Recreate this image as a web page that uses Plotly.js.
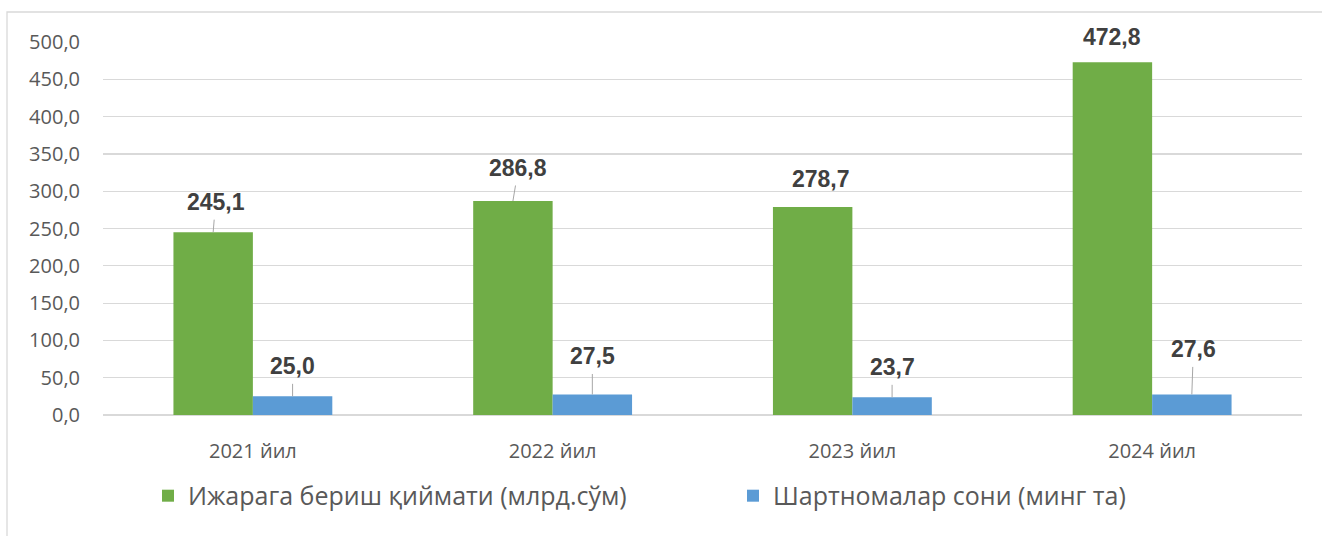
<!DOCTYPE html>
<html>
<head>
<meta charset="utf-8">
<script src="https://cdn.plot.ly/plotly-3.0.1.min.js"></script>
<style>html,body{margin:0;padding:0;background:#fff;}#chart{width:1322px;height:536px;}</style>
</head>
<body>
<div id="chart"></div>
<script>
const categories = ['2021 йил', '2022 йил', '2023 йил', '2024 йил'];
const seriesNames = ['Ижарага бериш қиймати (млрд.сўм)', 'Шартномалар сони (минг та)'];
const rentValue = [245.1, 286.8, 278.7, 472.8];
const contractCount = [25.0, 27.5, 23.7, 27.6];
const yTickValues = [0, 50, 100, 150, 200, 250, 300, 350, 400, 450, 500];

const greenColor = '#70AD47';
const blueColor = '#5B9BD5';
const bargap = 0.47;
const barW = (1 - bargap) / 2;

// label placement (pixel offsets from bar top centre) and leader flags
const rentLabelOffsets = [[2.5, -30, true], [5.5, -33, true], [8.5, -28, false], [0, -25, false]];
const countLabelOffsets = [[0, -30, true], [0, -38, true], [0, -30, true], [1.5, -45, true]];

function fmt(v) { return v.toFixed(1).replace('.', ','); }

const traces = [
  { type: 'bar', name: seriesNames[0], x: categories, y: rentValue, legend: 'legend',
    marker: { color: greenColor, line: { width: 0 } }, hoverinfo: 'skip' },
  { type: 'bar', name: seriesNames[1], x: categories, y: contractCount, legend: 'legend2',
    marker: { color: blueColor, line: { width: 0 } }, hoverinfo: 'skip' }
];

const annotations = [];
function addLabels(values, offsets, shift) {
  values.forEach((v, i) => {
    const [dx, dy, leader] = offsets[i];
    const base = {
      x: i + shift, y: v, xref: 'x', yref: 'y', text: fmt(v),
      font: { family: 'Liberation Sans, Arial, sans-serif', size: 23, color: '#404040', weight: 'bold' }
    };
    if (leader) {
      annotations.push(Object.assign(base, {
        showarrow: true, arrowhead: 0, arrowwidth: 1, arrowcolor: '#A6A6A6',
        ax: dx, ay: dy, standoff: 0, startstandoff: 3
      }));
    } else {
      annotations.push(Object.assign(base, {
        showarrow: false, xshift: dx, yshift: -dy, yanchor: 'middle', xanchor: 'center'
      }));
    }
  });
}
addLabels(rentValue, rentLabelOffsets, -barW / 2);
addLabels(contractCount, countLabelOffsets, barW / 2);

const legendFont = { family: 'Open Sans, sans-serif', size: 25, color: '#595959' };

const layout = {
  width: 1322, height: 536,
  margin: { l: 103, r: 20, t: 42, b: 121, autoexpand: false },
  paper_bgcolor: '#ffffff', plot_bgcolor: '#ffffff',
  barmode: 'group', bargap: bargap, bargroupgap: 0,
  separators: ', ',
  font: { family: 'Open Sans, sans-serif', color: '#595959' },
  xaxis: {
    type: 'category', showgrid: false, showline: false, zeroline: false,
    ticks: '', ticklabelstandoff: 22,
    tickfont: { family: 'Open Sans, sans-serif', size: 20, color: '#595959' }
  },
  yaxis: {
    range: [0, 500], tickvals: yTickValues, tickformat: '.1f',
    showgrid: true, gridcolor: '#D9D9D9', gridwidth: 1.2,
    zeroline: true, zerolinecolor: '#D9D9D9', zerolinewidth: 2,
    showline: false, ticks: '', ticklabelstandoff: 22,
    tickfont: { family: 'Open Sans, sans-serif', size: 20, color: '#595959' }
  },
  showlegend: true,
  legend: {
    orientation: 'h', x: (148 - 103) / 1199, xanchor: 'left', y: -0.217, yanchor: 'middle',
    font: legendFont
  },
  legend2: {
    orientation: 'h', x: (733 - 103) / 1199, xanchor: 'left', y: -0.217, yanchor: 'middle',
    font: legendFont
  },
  annotations: annotations,
  shapes: [
    { type: 'rect', xref: 'paper', yref: 'paper',
      x0: (7 - 103) / 1199, x1: (1340 - 103) / 1199,
      y0: (415 - 560) / 373, y1: (415 - 12) / 373,
      line: { color: '#D9D9D9', width: 1.3 }, fillcolor: 'rgba(0,0,0,0)', layer: 'below' }
  ]
};

Plotly.newPlot('chart', traces, layout, { staticPlot: true, displayModeBar: false });
</script>
</body>
</html>
